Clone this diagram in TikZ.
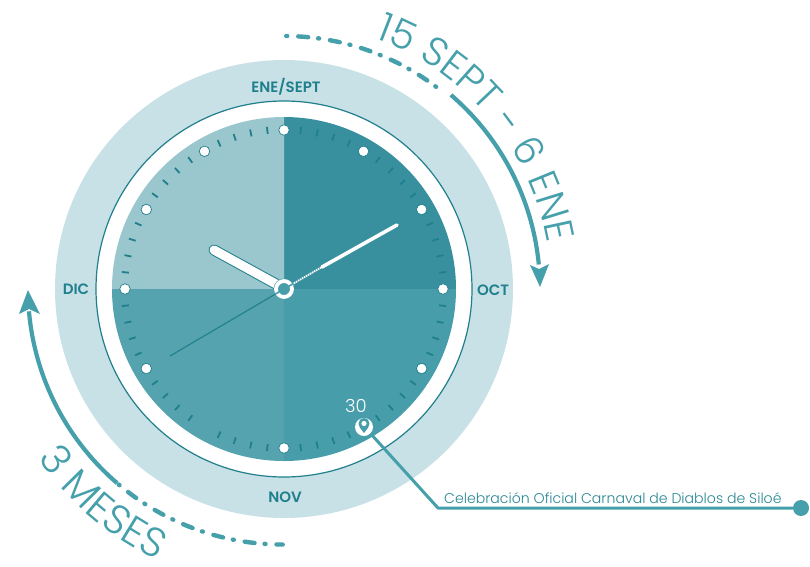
\documentclass[tikz,border=0pt]{standalone}
\usepackage{fontspec}
\setmainfont{Poppins}
\newfontfamily\popl{Poppins Light}
\newfontfamily\popm{Poppins SemiBold}
\usetikzlibrary{decorations.text,calc}
\definecolor{ringc}{HTML}{C8E1E6}
\definecolor{secTR}{HTML}{38909F}
\definecolor{secBR}{HTML}{479DAA}
\definecolor{secBL}{HTML}{56A3B0}
\definecolor{secTL}{HTML}{9AC7CD}
\definecolor{arcc}{HTML}{45A0AB}
\definecolor{darkt}{HTML}{1F7F8C}
\tikzset{
  x=1pt,y=1pt,
  monthlabel/.style={text=darkt,font=\popm\fontsize{15}{17}\selectfont,inner sep=0pt},
  hourdot/.style={circle,fill=white,draw=darkt,line width=.7pt,minimum size=10.5pt,inner sep=0pt},
  dasharc/.style={arcc,line width=4.4pt,line cap=round,dash pattern=on 1pt off 11pt on 10pt off 10pt},
  solidarc/.style={arcc,line width=4.2pt},
}
\begin{document}
\begin{tikzpicture}
\useasboundingbox (-284,-277) rectangle (526,289);
% rings
\fill[ringc] (0,0) circle (229);
\fill[white] (0,0) circle (188);
\draw[darkt,line width=1.2pt] (0,0) circle (188);
% sectors
\fill[secTR] (0,0) -- (90:172) arc (90:0:172) -- cycle;
\fill[secTL] (0,0) -- (180:172) arc (180:90:172) -- cycle;
\fill[secBL] (0,0) -- (270:172) arc (270:180:172) -- cycle;
\fill[secBR] (0,0) -- (360:172) arc (360:270:172) -- cycle;
% ticks
\foreach \m in {0,...,59}{
  \pgfmathtruncatemacro{\rem}{mod(\m,5)}
  \ifnum\rem=0\else
    \draw[darkt,line width=1.8pt] (\m*6:156) -- (\m*6:163);
  \fi
}
% hour dots
\foreach \a in {0,30,60,90,120,150,180,210,270,300,330}{
  \node[hourdot] (dot\a) at (\a:159) {};
}
% month labels
\node[monthlabel] (ene) at (2,202) {ENE/SEPT};
\node[monthlabel] (oct) at (209,-1) {OCT};
\node[monthlabel] (dic) at (-208,0) {DIC};
\node[monthlabel] (nov) at (1,-208) {NOV};
% hands
\coordinate (hub) at (0,0);
\draw[darkt,line width=1.1pt] (hub) -- (-114,-67);
\draw[darkt,line width=11pt,line cap=round] (-8,5) -- (-70,39);
\draw[white,line width=9pt,line cap=round] (-8,5) -- (-70,39);
\draw[white,line width=1.8pt,dash pattern=on 1.5pt off .8pt] (6,3.5) -- (38,22);
\draw[white,line width=3.6pt,line cap=round] (38,22) -- (113,64);
\fill[secBR] (hub) circle (10.5);
\draw[white,line width=3.8pt] (hub) circle (8);
\draw[secBR,line width=1.6pt] (30:5.5) -- (30:10.5) (210:5.5) -- (210:10.5);
% pin
\node[circle,fill=white,minimum size=18pt,inner sep=0pt] (pin) at (80,-138) {};
\fill[secBR] (80,-144) .. controls (76,-139) and (74.5,-137) .. (74.5,-134.5) arc (180:0:5.5) .. controls (85.5,-137) and (84,-139) .. (80,-144) -- cycle;
\fill[white] (80,-134.5) circle (2.6);
\node[text=white,inner sep=0pt,font=\popl\fontsize{18}{20}\selectfont] (thirty) at (72,-117) {30};
% callout
\coordinate (corner) at (154,-219);
\node[circle,fill=arcc,minimum size=16pt,inner sep=0pt] (enddot) at (517,-219) {};
\draw[arcc,line width=3pt,line join=round] (pin.-45) -- (corner) -- (enddot);
\node[anchor=base west,inner sep=0pt,text=darkt!80!arcc,font=\popl\fontsize{14.1}{16}\selectfont] (cele) at (160,-214) {Celebración Oficial Carnaval de Diablos de Siloé};
% arcs
\draw[dasharc] (89.5:253) arc (89.5:51:253);
\draw[solidarc] (49.3:256) arc (49.3:5.5:256);
\fill[arcc] (256,2) -- (246,24) -- (255,20) -- (265,25) -- cycle;
\draw[dasharc] (229.8:256) arc (229.8:270:254);
\draw[solidarc] (229.3:256) arc (229.3:185:256);
\fill[arcc] (-256,-1) -- (-265,-25) -- (-255,-20) -- (-244,-25) -- cycle;
% curved texts
\path[decorate,decoration={text along path,text align={fit to path},text={|\popl\fontsize{40}{40}\selectfont\color{arcc}|15 SEPT - 6 ENE}}] (70:267) arc (70:10:267);
\path[decorate,decoration={text along path,text align={fit to path},text={|\popl\fontsize{41}{41}\selectfont\color{arcc}|3 MESES}}] (214.5:299) arc (214.5:245:299);
\end{tikzpicture}
\end{document}
